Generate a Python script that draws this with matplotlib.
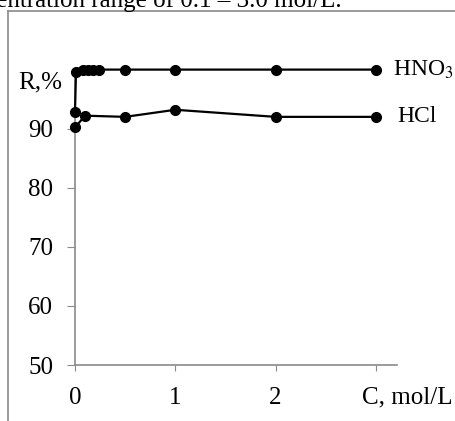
import matplotlib.pyplot as plt
from matplotlib.lines import Line2D

plt.rcParams['font.family'] = ['Liberation Serif', 'DejaVu Serif']
plt.rcParams['mathtext.fontset'] = 'stix'

# concentration, mol/L and recovery R, %
c_hno3 = [0.0, 0.01, 0.08, 0.13, 0.18, 0.24, 0.5, 1.0, 2.0, 3.0]
r_hno3 = [92.9, 99.6, 100.0, 100.0, 100.0, 100.0, 100.0, 100.0, 100.0, 100.0]
c_hcl = [0.0, 0.1, 0.5, 1.0, 2.0, 3.0]
r_hcl = [90.2, 92.2, 92.0, 93.2, 92.0, 92.0]
y_ticks = [50, 60, 70, 80, 90]
x_ticks = [0, 1, 2, 3]
x_labels = ['0', '1', '2', '']

W, H = 456, 421
fig = plt.figure(figsize=(W / 100, H / 100), dpi=100)
ax = fig.add_axes([75 / W, 1 - 365 / H, (397 - 75) / W, (365 - 69.6) / H])

ax.plot(c_hno3, r_hno3, color='black', lw=1.6, marker='o', ms=7, zorder=3, clip_on=False)
ax.plot(c_hcl, r_hcl, color='black', lw=1.6, marker='o', ms=7, zorder=3, clip_on=False)

ax.set_xlim(0, 3.21)
ax.set_ylim(50, 100)
ax.set_yticks(y_ticks)
ax.set_xticks(x_ticks)
ax.set_xticklabels(x_labels)
for s in ['top', 'right']:
    ax.spines[s].set_visible(False)
for s in ['left', 'bottom']:
    ax.spines[s].set_color('#8a8a8a')
    ax.spines[s].set_linewidth(1.2)
ax.tick_params(axis='y', direction='out', length=5.8, color='#8a8a8a', labelsize=18, pad=10)
ax.tick_params(axis='x', direction='out', length=4.5, color='#8a8a8a', labelsize=18, pad=11)

fig.text(40 / W, 1 - 82 / H, 'R,%', fontsize=18, ha='center', va='center')
fig.text(407 / W, 1 - 397 / H, 'C, mol/L', fontsize=18, ha='center', va='center')
ax.text(3.17, 100, 'HNO$_3$', fontsize=17, va='center', ha='left')
ax.text(3.21, 92, 'HCl', fontsize=17, va='center', ha='left')

# page caption cut by the crop and the chart frame
fig.text(342 / W, 1 - 7 / H, 'centration range of 0.1 \u2013 3.0 mol/L.', fontsize=18,
         ha='right', va='baseline')
fig.add_artist(Line2D([8.5 / W, 8.5 / W], [0, 1 - 11 / H], color='#8a8a8a', lw=1.2))
fig.add_artist(Line2D([8.5 / W, 1], [1 - 11 / H, 1 - 11 / H], color='#8a8a8a', lw=1.2))

fig.savefig('out.png', dpi=100)
